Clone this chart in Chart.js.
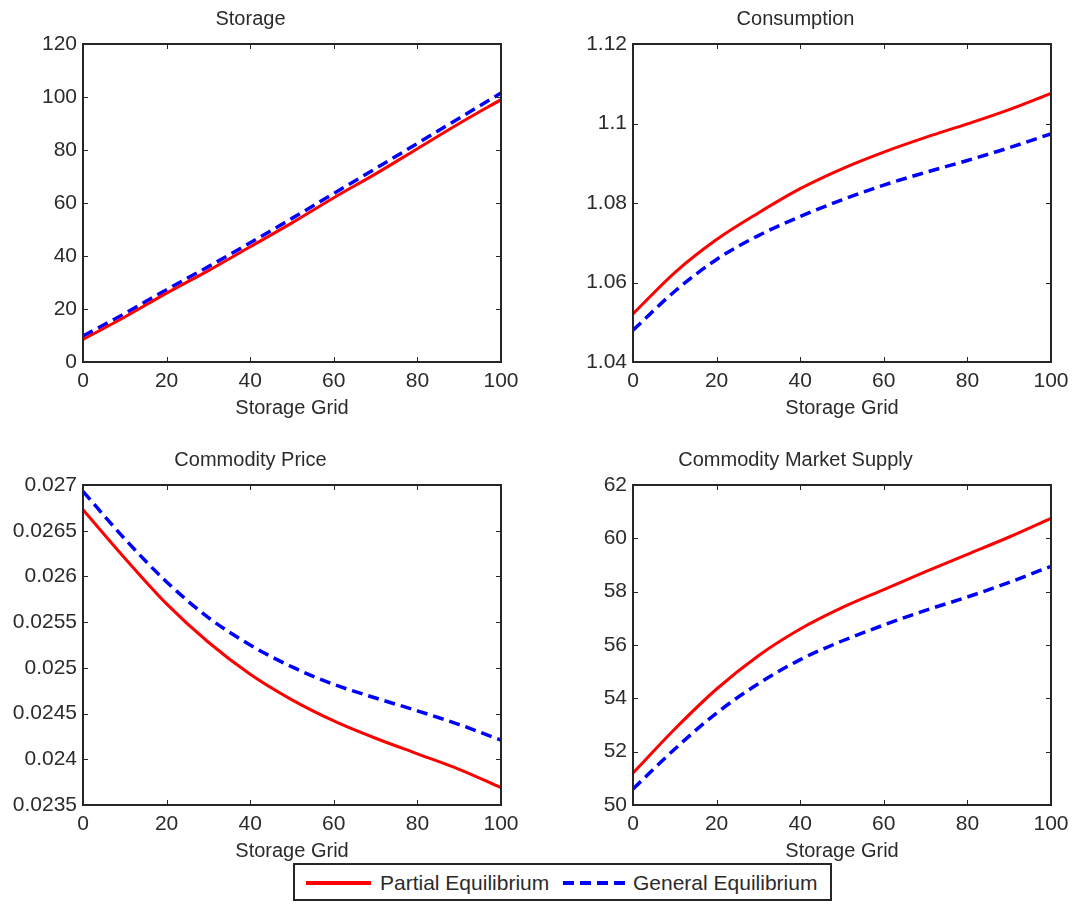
<!DOCTYPE html>
<html>
<head>
<meta charset="utf-8">
<script src="https://cdn.jsdelivr.net/npm/chart.js@4/dist/chart.umd.min.js"></script>
<style>
  html, body { margin: 0; padding: 0; background: #fff; }
  body { width: 1073px; height: 907px; position: relative; overflow: hidden; font-family: "Liberation Sans", Arial, Helvetica, sans-serif; }
  canvas { position: absolute; }
  #legend { position: absolute; left: 293px; top: 863px; width: 539px; height: 38px; border: 2px solid #262626; box-sizing: border-box; background: #fff; }
  #legend svg { position: absolute; top: 0; }
  #legend span { position: absolute; top: 6px; font-size: 21px; line-height: 23px; color: #2b2b2b; white-space: nowrap; }
</style>
</head>
<body>
<canvas id="c1" width="526" height="420" style="left:0px;top:0px"></canvas>
<canvas id="c2" width="533" height="420" style="left:540px;top:0px"></canvas>
<canvas id="c3" width="526" height="422" style="left:0px;top:441px"></canvas>
<canvas id="c4" width="533" height="422" style="left:540px;top:441px"></canvas>
<div id="legend">
  <svg width="80" height="36" style="left:11px"><line x1="0" y1="18" x2="65" y2="18" stroke="#ff0000" stroke-width="4"/></svg>
  <span style="left:85px">Partial Equilibrium</span>
  <svg width="80" height="36" style="left:268px"><line x1="0" y1="18" x2="65" y2="18" stroke="#0000ff" stroke-width="4" stroke-dasharray="11,6"/></svg>
  <span style="left:338px">General Equilibrium</span>
</div>
<script>
// ---- data ----
const xGrid = [0, 10, 20, 30, 40, 50, 60, 70, 80, 90, 100];
const xTicks = [0, 20, 40, 60, 80, 100];

const storagePE = [8.5, 17, 26, 34.5, 43.5, 52.5, 62, 71, 80.5, 90, 99];
const storageGE = [9.8, 18.3, 27.3, 36, 45, 54.2, 63.6, 73, 82.5, 92, 101.5];
const storageTicks = [0, 20, 40, 60, 80, 100, 120];

const consumptionPE = [1.0521, 1.0625, 1.0708, 1.0775, 1.0836, 1.0886, 1.0928, 1.0965, 1.0999, 1.1035, 1.1076];
const consumptionGE = [1.0480, 1.0578, 1.0658, 1.0718, 1.0766, 1.0808, 1.0845, 1.0877, 1.0907, 1.0939, 1.0974];
const consumptionTicks = [1.04, 1.06, 1.08, 1.10, 1.12];

const pricePE = [0.02673, 0.02620, 0.02570, 0.02528, 0.02493, 0.02465, 0.02442, 0.02423, 0.02406, 0.02389, 0.02369];
const priceGE = [0.02693, 0.02641, 0.02594, 0.02555, 0.02525, 0.02501, 0.02482, 0.02467, 0.02453, 0.02438, 0.02421];
const priceTicks = [0.0235, 0.024, 0.0245, 0.025, 0.0255, 0.026, 0.0265, 0.027];

const supplyPE = [51.2, 52.85, 54.35, 55.6, 56.6, 57.4, 58.08, 58.75, 59.4, 60.05, 60.75];
const supplyGE = [50.6, 52.1, 53.45, 54.55, 55.45, 56.15, 56.75, 57.3, 57.8, 58.35, 58.95];
const supplyTicks = [50, 52, 54, 56, 58, 60, 62];

const seriesNames = ['Partial Equilibrium', 'General Equilibrium'];
const xTitle = 'Storage Grid';

// ---- drawing ----
const FONT = '"Liberation Sans", Arial, Helvetica, sans-serif';
const TXT = '#2b2b2b';

const boxPlugin = {
  id: 'matlabBox',
  afterDraw(chart) {
    const { ctx, chartArea: a, scales: { x, y } } = chart;
    ctx.save();
    ctx.strokeStyle = '#262626';
    ctx.lineWidth = 1;
    const L = 5;
    ctx.beginPath();
    x.ticks.forEach(t => {
      const px = Math.round(x.getPixelForValue(t.value)) + 0.5;
      ctx.moveTo(px, a.bottom); ctx.lineTo(px, a.bottom - L);
      ctx.moveTo(px, a.top); ctx.lineTo(px, a.top + L);
    });
    y.ticks.forEach(t => {
      const py = Math.round(y.getPixelForValue(t.value)) + 0.5;
      ctx.moveTo(a.left, py); ctx.lineTo(a.left + L, py);
      ctx.moveTo(a.right, py); ctx.lineTo(a.right - L, py);
    });
    ctx.stroke();
    ctx.lineWidth = 2;
    ctx.strokeRect(a.left, a.top, a.right - a.left, a.bottom - a.top);
    ctx.restore();
  }
};

function fmt(v) { return String(Number(v.toFixed(6))); }

function makeChart(id, title, pe, ge, yTicks, yWidth, padRight) {
  const toPts = arr => arr.map((v, i) => ({ x: xGrid[i], y: v }));
  new Chart(document.getElementById(id), {
    type: 'line',
    data: {
      datasets: [
        { label: seriesNames[0], data: toPts(pe), borderColor: '#ff0000', borderWidth: 3, pointRadius: 0, cubicInterpolationMode: 'monotone', fill: false },
        { label: seriesNames[1], data: toPts(ge), borderColor: '#0000ff', borderWidth: 3.5, borderDash: [11, 6], pointRadius: 0, cubicInterpolationMode: 'monotone', fill: false }
      ]
    },
    options: {
      responsive: false,
      animation: false,
      devicePixelRatio: 1,
      layout: { padding: { left: 0, right: padRight, top: 0, bottom: 0 } },
      plugins: {
        legend: { display: false },
        tooltip: { enabled: false },
        title: {
          display: true, text: title, color: TXT,
          font: { family: FONT, size: 20, weight: 'normal', lineHeight: '20px' },
          padding: { top: 9, bottom: 15 }
        }
      },
      scales: {
        x: {
          type: 'linear', min: 0, max: 100,
          grid: { display: false, drawTicks: false },
          border: { display: false },
          afterBuildTicks: s => { s.ticks = xTicks.map(v => ({ value: v })); },
          afterFit: s => { s.height = 58; s.paddingLeft = 0; s.paddingRight = 0; },
          ticks: { color: TXT, padding: 7, maxRotation: 0, autoSkip: false, font: { family: FONT, size: 21 }, callback: v => fmt(v) },
          title: { display: true, text: xTitle, color: TXT, padding: { top: 0, bottom: 0 }, font: { family: FONT, size: 20, lineHeight: 1.2 } }
        },
        y: {
          type: 'linear', min: yTicks[0], max: yTicks[yTicks.length - 1],
          grid: { display: false, drawTicks: false },
          border: { display: false },
          afterBuildTicks: s => { s.ticks = yTicks.map(v => ({ value: v })); },
          afterFit: s => { s.width = yWidth; s.paddingTop = 0; s.paddingBottom = 0; },
          ticks: { color: TXT, padding: 6, autoSkip: false, font: { family: FONT, size: 21 }, callback: v => fmt(v) }
        }
      }
    },
    plugins: [boxPlugin]
  });
}

makeChart('c1', 'Storage', storagePE, storageGE, storageTicks, 83, 25);
makeChart('c2', 'Consumption', consumptionPE, consumptionGE, consumptionTicks, 93, 22);
makeChart('c3', 'Commodity Price', pricePE, priceGE, priceTicks, 83, 25);
makeChart('c4', 'Commodity Market Supply', supplyPE, supplyGE, supplyTicks, 93, 22);
</script>
</body>
</html>
